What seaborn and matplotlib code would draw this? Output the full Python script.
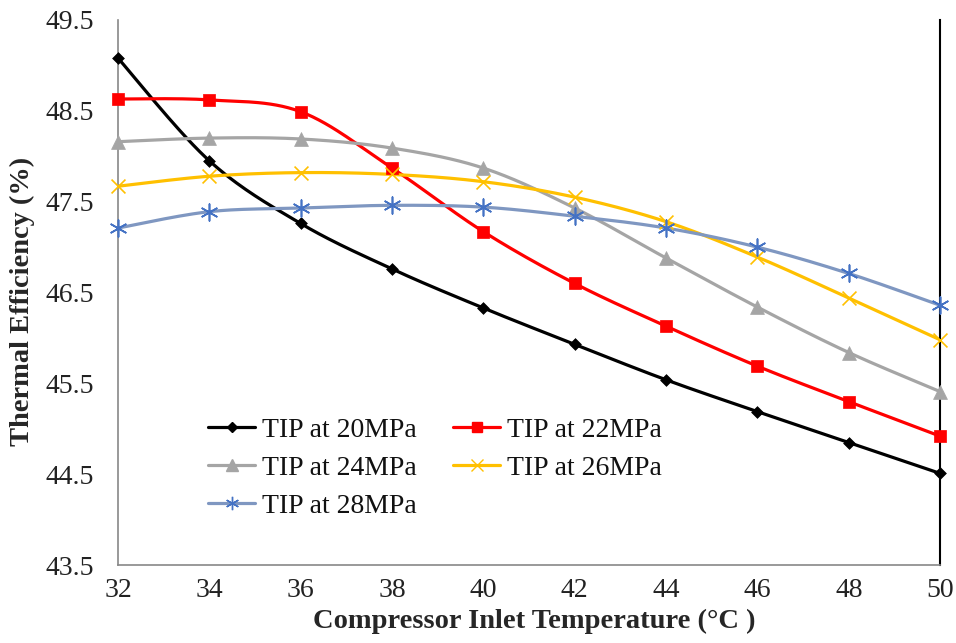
import numpy as np
import pandas as pd
import matplotlib
matplotlib.use("Agg")
import matplotlib.pyplot as plt
import seaborn as sns
from matplotlib.lines import Line2D

# ---- data ----
temps = [32, 34, 36, 38, 40, 42, 44, 46, 48, 50]
tip_20 = [49.08, 47.95, 47.26, 46.76, 46.33, 45.93, 45.54, 45.19, 44.85, 44.51]
tip_22 = [48.63, 48.62, 48.49, 47.87, 47.17, 46.60, 46.13, 45.69, 45.30, 44.92]
tip_24 = [48.16, 48.20, 48.19, 48.09, 47.87, 47.43, 46.88, 46.34, 45.84, 45.41]
tip_26 = [47.67, 47.78, 47.82, 47.80, 47.72, 47.55, 47.28, 46.89, 46.44, 45.98]
tip_28 = [47.21, 47.39, 47.43, 47.46, 47.44, 47.34, 47.21, 47.00, 46.71, 46.36]
labels = ["TIP at 20MPa", "TIP at 22MPa", "TIP at 24MPa", "TIP at 26MPa", "TIP at 28MPa"]
x_ticks = [32, 34, 36, 38, 40, 42, 44, 46, 48, 50]
y_ticks = [43.5, 44.5, 45.5, 46.5, 47.5, 48.5, 49.5]

series = [tip_20, tip_22, tip_24, tip_26, tip_28]
styles = [
    dict(color="#000000", mcolor="#000000", marker="D", ms=6),
    dict(color="#FF0000", mcolor="#FF0000", marker="s", ms=9),
    dict(color="#A5A5A5", mcolor="#A5A5A5", marker="^", ms=10),
    dict(color="#FFC000", mcolor="#FFC000", marker="x", ms=10),
    dict(color="#7F97C1", mcolor="#4472C4", marker=(6, 2, 0), ms=12),
]

sns.set_theme(style="white")
plt.rcParams["font.family"] = ["Liberation Serif", "DejaVu Serif"]

fig = plt.figure(figsize=(9.56, 6.43), dpi=100)
ax = fig.add_axes([0.1234, 0.121, 0.86, 0.848])


def smooth(xs, ys, n=30):
    # Excel-style smoothed line (Catmull-Rom Bezier) through the data points
    xs = np.asarray(xs, float)
    ys = np.asarray(ys, float)
    P = np.column_stack([xs, ys])
    out = []
    for i in range(len(P) - 1):
        p0 = P[i - 1] if i > 0 else P[i]
        p1 = P[i]
        p2 = P[i + 1]
        p3 = P[i + 2] if i + 2 < len(P) else P[i + 1]
        c1 = p1 + (p2 - p0) / 6.0
        c2 = p2 - (p3 - p1) / 6.0
        t = np.linspace(0, 1, n, endpoint=(i == len(P) - 2))[:, None]
        b = ((1 - t) ** 3) * p1 + 3 * ((1 - t) ** 2) * t * c1 + 3 * (1 - t) * t ** 2 * c2 + t ** 3 * p2
        out.append(b)
    arr = np.vstack(out)
    return arr[:, 0], arr[:, 1]


handles = []
for vals, lab, st in zip(series, labels, styles):
    sx, sy = smooth(temps, vals)
    sns.lineplot(x=sx, y=sy, ax=ax, color=st["color"], lw=2.3, sort=False,
                 estimator=None, legend=False)
    df = pd.DataFrame({"T": temps, "eff": vals})
    mk = st["marker"]
    if mk == "x" or isinstance(mk, tuple):
        sns.scatterplot(data=df, x="T", y="eff", ax=ax, marker=mk, s=st["ms"] ** 2,
                        color=st["mcolor"], linewidth=1.2, legend=False, zorder=5,
                        clip_on=False)
    else:
        sns.scatterplot(data=df, x="T", y="eff", ax=ax, marker=mk, s=st["ms"] ** 2,
                        color=st["mcolor"], edgecolor=st["mcolor"], linewidth=0.5,
                        legend=False, zorder=5, clip_on=False)
    handles.append(Line2D([0], [0], color=st["color"], lw=2.3, marker=mk,
                          markersize=st["ms"] * 0.8, markerfacecolor=st["mcolor"],
                          markeredgecolor=st["mcolor"], label=lab))

ax.set_xlim(32, 50)
ax.set_ylim(43.5, 49.5)
ax.set_xticks(x_ticks)
ax.set_yticks(y_ticks)
ax.set_xticklabels([str(t) for t in x_ticks])
ax.set_yticklabels([f"{v:.1f}" for v in y_ticks])
ax.tick_params(axis="both", direction="in", length=5, width=1, color="#888888",
               labelsize=20, labelcolor="#222222")
ax.tick_params(axis="y", pad=17)
ax.tick_params(axis="x", pad=9)

for side in ["left", "bottom"]:
    ax.spines[side].set_color("#888888")
    ax.spines[side].set_linewidth(1.2)
ax.spines["right"].set_color("#000000")
ax.spines["right"].set_linewidth(1.5)
ax.spines["top"].set_visible(False)

ax.set_xlabel("Compressor Inlet Temperature (°C )", fontsize=20.5, fontweight="bold")
ax.set_ylabel("Thermal Efficiency (%)", fontsize=20.5, fontweight="bold")
# label positions in figure pixels -> axes fraction
fig_w, fig_h = 956, 643
ax_x0, ax_y0, ax_w, ax_h = 0.1234 * fig_w, 0.121 * fig_h, 0.86 * fig_w, 0.848 * fig_h
ax.xaxis.set_label_coords((534 - ax_x0) / ax_w, ((fig_h - 609) - ax_y0) / ax_h)
ax.yaxis.set_label_coords((35 - ax_x0) / ax_w, ((fig_h - 301) - ax_y0) / ax_h)

# row-wise legend order: (20, 22), (24, 26), (28)
order = [0, 2, 4, 1, 3]
leg = ax.legend(handles=[handles[i] for i in order], ncol=2, loc="lower left",
                bbox_to_anchor=(0.086, 0.049), frameon=False, fontsize=20,
                handlelength=1.7, columnspacing=1.3, handletextpad=0.25,
                labelspacing=0.45, borderpad=0.2)
for t in leg.get_texts():
    t.set_color("#111111")

fig.savefig("out.png", dpi=100)
